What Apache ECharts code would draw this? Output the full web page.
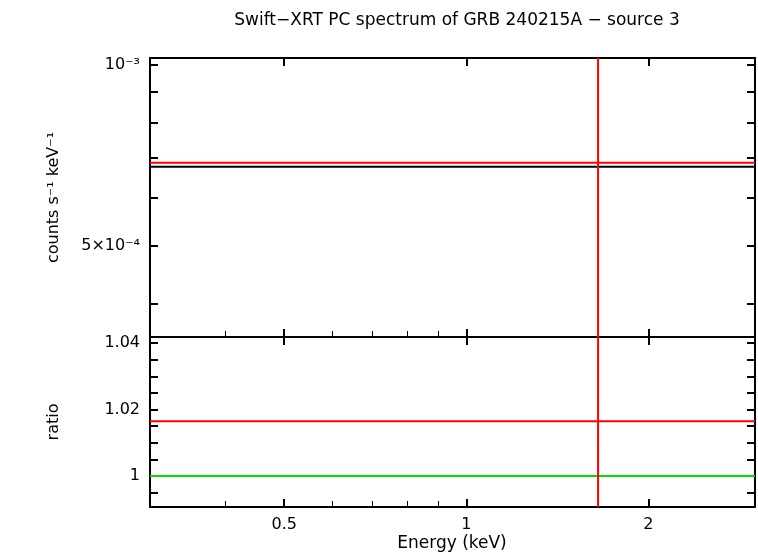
<!DOCTYPE html>
<html><head><meta charset="utf-8">
<script src="https://cdn.jsdelivr.net/npm/echarts@6/dist/echarts.min.js"></script>
<style>html,body{margin:0;background:#fff}#c{width:758px;height:556px}</style>
</head><body><div id="c"></div>
<script>
const xRange = [0.3, 3];
const xTicks = [0.5, 1, 2];
const xMinor = [0.3, 0.4, 0.6, 0.7, 0.8, 0.9, 3];
const topRange = [3.52e-4, 1.025e-3];
const topTicks = [5e-4, 1e-3];
const topMinor = [4e-4, 6e-4, 7e-4, 8e-4, 9e-4];
const ratioRange = [0.9907, 1.0418];
const ratioTicks = [1, 1.02, 1.04];
const dataLevel = 6.76e-4;
const modelLevel = 6.86e-4;
const ratioLevel = 1.0165;
const unityLevel = 1;
const lineEnergy = 1.651;

const font = 'DejaVu Sans, Liberation Sans, sans-serif';
const fmtTop = v => Math.abs(v - 1e-3) < 1e-9 ? '10⁻³' : '5×10⁻⁴';
function xAx(idx, pos, labels, minorLen){
  return {type:'log', logBase:2, gridIndex:idx, position:pos, min:xRange[0], max:xRange[1],
    axisLine:{show:true,lineStyle:{color:'#000',width:2}},
    axisTick:{show:true,inside:true,length:minorLen,customValues:xTicks,lineStyle:{color:'#000',width:2}},
    axisLabel:{show:labels,customValues:xTicks,color:'#000',fontSize:16,fontFamily:font,margin:10},
    splitLine:{show:false},minorTick:{show:false}};
}
function xMin(idx,pos){
  return {type:'log', logBase:2, gridIndex:idx, position:pos, min:xRange[0], max:xRange[1],
    axisLine:{show:false},axisLabel:{show:false},splitLine:{show:false},
    axisTick:{show:true,inside:true,length:6,customValues:xMinor,lineStyle:{color:'#000',width:1}}};
}
const option = {
  animation:false, backgroundColor:'#fff',
  title:{text:'Swift−XRT PC spectrum of GRB 240215A − source 3',left:452,top:7,textAlign:'center',
    textStyle:{fontSize:17,fontWeight:'normal',color:'#000',fontFamily:font}},
  grid:[{left:150,top:58,width:605,height:279},{left:150,top:337,width:605,height:170}],
  xAxis:[xAx(0,'bottom',false,8), xAx(0,'top',false,8), xAx(1,'bottom',true,8), xAx(1,'top',false,8),
    xMin(0,'bottom'), xMin(1,'bottom')],
  yAxis:[
    {type:'log',gridIndex:0,position:'left',min:topRange[0],max:topRange[1],
     name:'counts s⁻¹ keV⁻¹',nameLocation:'middle',nameGap:88,nameTextStyle:{fontSize:16,color:'#000',fontFamily:font},
     axisLine:{show:true,lineStyle:{color:'#000',width:2}},
     axisTick:{show:true,inside:true,length:8,customValues:topTicks.concat(topMinor),lineStyle:{color:'#000',width:2}},
     axisLabel:{customValues:topTicks,formatter:fmtTop,color:'#000',fontSize:16,fontFamily:font,margin:10},splitLine:{show:false}},
    {type:'log',gridIndex:0,position:'right',min:topRange[0],max:topRange[1],
     axisLine:{show:true,lineStyle:{color:'#000',width:2}},
     axisTick:{show:true,inside:true,length:8,customValues:topTicks.concat(topMinor),lineStyle:{color:'#000',width:2}},
     axisLabel:{show:false},splitLine:{show:false}},
    {type:'value',gridIndex:1,position:'left',min:ratioRange[0],max:ratioRange[1],
     name:'ratio',nameLocation:'middle',nameGap:88,nameTextStyle:{fontSize:16,color:'#000',fontFamily:font},
     axisLine:{show:true,lineStyle:{color:'#000',width:2}},
     axisTick:{show:true,inside:true,length:8,customValues:[0.995,1,1.005,1.01,1.015,1.02,1.025,1.03,1.035,1.04],lineStyle:{color:'#000',width:2}},
     axisLabel:{customValues:ratioTicks,formatter:v=>String(+v.toFixed(2)),color:'#000',fontSize:16,fontFamily:font,margin:10},splitLine:{show:false}},
    {type:'value',gridIndex:1,position:'right',min:ratioRange[0],max:ratioRange[1],
     axisLine:{show:true,lineStyle:{color:'#000',width:2}},
     axisTick:{show:true,inside:true,length:8,customValues:[0.995,1,1.005,1.01,1.015,1.02,1.025,1.03,1.035,1.04],lineStyle:{color:'#000',width:2}},
     axisLabel:{show:false},splitLine:{show:false}}
  ],
  graphic:[{type:'text',x:452,y:535,style:{text:'Energy (keV)',fontSize:17,fontFamily:font,fill:'#000',align:'center'}}],
  series:[
    {type:'line',xAxisIndex:0,yAxisIndex:0,symbol:'none',data:[[xRange[0],dataLevel],[xRange[1],dataLevel]],lineStyle:{color:'#000',width:2}},
    {type:'line',xAxisIndex:0,yAxisIndex:0,symbol:'none',data:[[xRange[0],modelLevel],[xRange[1],modelLevel]],lineStyle:{color:'#ff0000',width:2}},
    {type:'line',xAxisIndex:0,yAxisIndex:0,symbol:'none',data:[[lineEnergy,topRange[0]],[lineEnergy,topRange[1]]],lineStyle:{color:'#ff0000',width:2}},
    {type:'line',xAxisIndex:2,yAxisIndex:2,symbol:'none',data:[[xRange[0],unityLevel],[xRange[1],unityLevel]],lineStyle:{color:'#00dd00',width:2}},
    {type:'line',xAxisIndex:2,yAxisIndex:2,symbol:'none',data:[[xRange[0],ratioLevel],[xRange[1],ratioLevel]],lineStyle:{color:'#ff0000',width:2}},
    {type:'line',xAxisIndex:2,yAxisIndex:2,symbol:'none',data:[[lineEnergy,ratioRange[0]],[lineEnergy,ratioRange[1]]],lineStyle:{color:'#ff0000',width:2}}
  ]
};
echarts.init(document.getElementById('c')).setOption(option);
</script></body></html>
